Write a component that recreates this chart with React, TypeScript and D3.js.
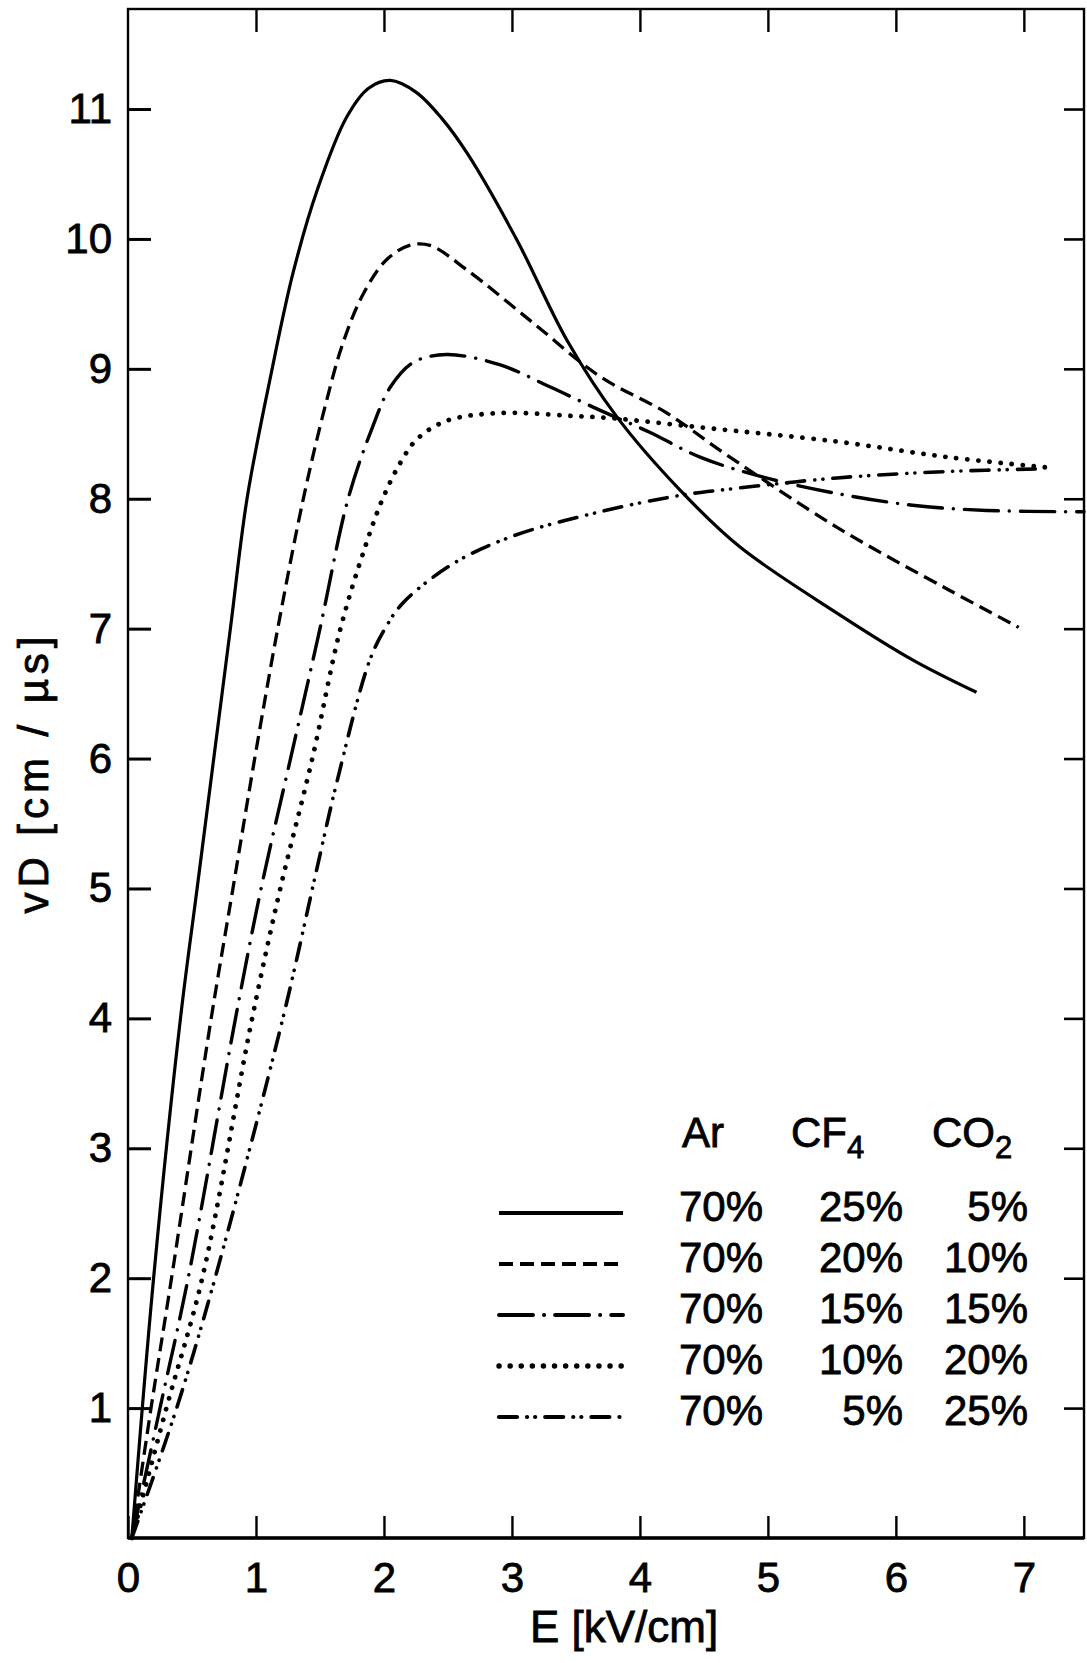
import * as d3 from "d3";
import { useEffect, useRef } from "react";

// E [kV/cm] vs drift velocity vD [cm/us], Ar/CF4/CO2 mixtures
const xTicks = [0, 1, 2, 3, 4, 5, 6, 7];
const xTopTicks = [1, 2, 3, 4, 5, 6, 7];
const yTicks = [1, 2, 3, 4, 5, 6, 7, 8, 9, 10, 11];

const cf4_25: [number, number][] = [
  [0.03, 0], [0.2, 2], [0.41, 4], [0.54, 5], [0.67, 6], [0.8, 7], [0.93, 8],
  [1.12, 8.97], [1.29, 9.74], [1.48, 10.38], [1.71, 10.94], [1.88, 11.16],
  [2.05, 11.22], [2.25, 11.13], [2.45, 10.93], [2.65, 10.66], [3.04, 9.99],
  [3.43, 9.22], [3.82, 8.63], [4.31, 8.07], [4.78, 7.63], [5.54, 7.12],
  [6.13, 6.76], [6.63, 6.51],
];
const cf4_20: [number, number][] = [
  [0.03, 0], [0.18, 1], [0.34, 2], [0.65, 4], [0.82, 5], [0.99, 6], [1.17, 7],
  [1.37, 8], [1.54, 8.71], [1.68, 9.2], [1.84, 9.58], [2.02, 9.84], [2.2, 9.95],
  [2.36, 9.95], [2.65, 9.76], [3.17, 9.35], [3.69, 8.94], [4.21, 8.66],
  [4.66, 8.35], [5.54, 7.78], [6.41, 7.3], [6.96, 7.01],
];
const cf4_15: [number, number][] = [
  [0.03, 0], [0.25, 1], [0.47, 2], [0.84, 4], [1.04, 5], [1.27, 6], [1.5, 7],
  [1.72, 8], [1.91, 8.55], [2.05, 8.86], [2.23, 9.05], [2.49, 9.11], [2.91, 9.03],
  [3.3, 8.86], [3.69, 8.68], [4.08, 8.51], [4.47, 8.32], [4.95, 8.17],
  [5.54, 8.04], [6.13, 7.95], [6.71, 7.91], [7.47, 7.9],
];
const cf4_10: [number, number][] = [
  [0.03, 0], [0.3, 1], [0.58, 2], [0.97, 4], [1.19, 5], [1.44, 6], [1.66, 7],
  [1.86, 7.65], [1.99, 8.0], [2.13, 8.28], [2.26, 8.46], [2.49, 8.6],
  [2.91, 8.66], [3.43, 8.64], [3.78, 8.62], [4.47, 8.55], [5.54, 8.44],
  [6.41, 8.32], [7.19, 8.24],
];
const cf4_5: [number, number][] = [
  [0.03, 0], [0.38, 1], [0.68, 2], [1.21, 4], [1.48, 5.17], [1.63, 5.81],
  [1.89, 6.76], [2.02, 7.02], [2.15, 7.2], [2.54, 7.5], [3.0, 7.71],
  [3.69, 7.9], [4.34, 8.03], [4.66, 8.07], [5.54, 8.16], [6.41, 8.21],
  [7.15, 8.23],
];

const legendAr = ["70%", "70%", "70%", "70%", "70%"];
const legendCF4 = ["25%", "20%", "15%", "10%", "5%"];
const legendCO2 = ["5%", "10%", "15%", "20%", "25%"];

const FONT = "'Liberation Sans', Arial, Helvetica, sans-serif";

const App = () => {
  const ref = useRef<SVGSVGElement>(null);

  useEffect(() => {
    const svg = d3.select(ref.current);
    svg.selectAll("*").remove();

    const x = d3.scaleLinear().domain([0, 7.47]).range([128, 1084]);
    const y = d3.scaleLinear().domain([0, 11.77]).range([1538, 9]);

    const styles = [
      { data: cf4_25, dash: null, width: 3.2, cap: "butt" },
      { data: cf4_20, dash: "14 7", width: 3.3, cap: "butt" },
      { data: cf4_15, dash: "34 11 0.1 11", width: 3.4, cap: "round" },
      { data: cf4_10, dash: "0.1 11", width: 4.8, cap: "round" },
      { data: cf4_5, dash: "18 10 0.1 8 0.1 10", width: 3.6, cap: "round" },
    ];

    // frame
    svg
      .append("rect")
      .attr("x", x(0))
      .attr("y", y(11.77))
      .attr("width", x(7.47) - x(0))
      .attr("height", y(0) - y(11.77))
      .attr("fill", "none")
      .attr("stroke", "#000")
      .attr("stroke-width", 2.4);
    svg
      .append("line")
      .attr("x1", x(0))
      .attr("x2", x(7.47))
      .attr("y1", y(0))
      .attr("y2", y(0))
      .attr("stroke", "#000")
      .attr("stroke-width", 3.6);

    const styleAxis = (g: any, sw: number) => {
      g.select(".domain").remove();
      g.attr("font-size", 42).attr("font-family", FONT);
      g.selectAll("line").attr("stroke", "#000").attr("stroke-width", sw);
      g.selectAll("text").attr("fill", "#000").attr("stroke", "#000").attr("stroke-width", 0.8);
    };

    // left axis
    svg
      .append("g")
      .attr("transform", `translate(${x(0)},0)`)
      .call(
        d3.axisLeft(y).tickValues(yTicks).tickSizeInner(-23).tickSizeOuter(0).tickPadding(16)
      )
      .call((g) => styleAxis(g, 3));

    // bottom axis
    svg
      .append("g")
      .attr("transform", `translate(0,${y(0)})`)
      .call(
        d3.axisBottom(x).tickValues(xTicks).tickSizeInner(-22).tickSizeOuter(0).tickPadding(24)
      )
      .call((g) => styleAxis(g, 2.4));

    // top ticks
    svg
      .append("g")
      .attr("transform", `translate(0,${y(11.77)})`)
      .call(
        d3.axisTop(x).tickValues(xTopTicks).tickSizeInner(-23).tickSizeOuter(0).tickFormat(() => "")
      )
      .call((g) => styleAxis(g, 2.4));

    // right ticks
    svg
      .append("g")
      .attr("transform", `translate(${x(7.47)},0)`)
      .call(
        d3.axisRight(y).tickValues(yTicks).tickSizeInner(-20).tickSizeOuter(0).tickFormat(() => "")
      )
      .call((g) => styleAxis(g, 2.6));

    // curves
    const line = d3
      .line<[number, number]>()
      .x((d) => x(d[0]))
      .y((d) => y(d[1]))
      .curve(d3.curveCatmullRom.alpha(0.5));

    styles.forEach((s) => {
      svg
        .append("path")
        .attr("d", line(s.data))
        .attr("fill", "none")
        .attr("stroke", "#000")
        .attr("stroke-width", s.width)
        .attr("stroke-linecap", s.cap)
        .attr("stroke-linejoin", "round")
        .attr("stroke-dasharray", s.dash);
    });

    // axis titles
    svg
      .append("text")
      .attr("x", 624)
      .attr("y", 1642)
      .attr("text-anchor", "middle")
      .attr("font-family", FONT)
      .attr("font-size", 44)
      .attr("stroke", "#000")
      .attr("stroke-width", 0.8)
      .text("E [kV/cm]");
    svg
      .append("text")
      .attr("transform", "translate(48,775) rotate(-90)")
      .attr("text-anchor", "middle")
      .attr("font-family", FONT)
      .attr("font-size", 42)
      .attr("stroke", "#000")
      .attr("stroke-width", 0.8)
      .attr("textLength", 277)
      .attr("lengthAdjust", "spacing")
      .text("vD [cm / µs]");

    // legend
    const lg = svg
      .append("g")
      .attr("font-family", FONT)
      .attr("font-size", 42)
      .attr("stroke", "#000")
      .attr("stroke-width", 0.8);
    lg.append("text").attr("x", 682).attr("y", 1147).text("Ar");
    const cf = lg.append("text").attr("x", 791).attr("y", 1147);
    cf.append("tspan").text("CF");
    cf.append("tspan").attr("font-size", 31).attr("dy", 11).text("4");
    const co = lg.append("text").attr("x", 932).attr("y", 1147);
    co.append("tspan").text("CO");
    co.append("tspan").attr("font-size", 31).attr("dy", 11).text("2");

    styles.forEach((s, i) => {
      const ly = 1213 + 51 * i;
      lg.append("line")
        .attr("x1", 499)
        .attr("x2", 623)
        .attr("y1", ly)
        .attr("y2", ly)
        .attr("stroke", "#000")
        .attr("stroke-width", s.width + 0.6)
        .attr("stroke-linecap", s.cap)
        .attr("stroke-dasharray", s.dash);
      lg.append("text").attr("x", 763).attr("y", ly + 8).attr("text-anchor", "end").text(legendAr[i]);
      lg.append("text").attr("x", 903).attr("y", ly + 8).attr("text-anchor", "end").text(legendCF4[i]);
      lg.append("text").attr("x", 1028).attr("y", ly + 8).attr("text-anchor", "end").text(legendCO2[i]);
    });
  }, []);

  return (
    <svg
      ref={ref}
      width={1087}
      height={1663}
      style={{ position: "absolute", left: 0, top: 0, background: "#fff" }}
    />
  );
};

export default App;
